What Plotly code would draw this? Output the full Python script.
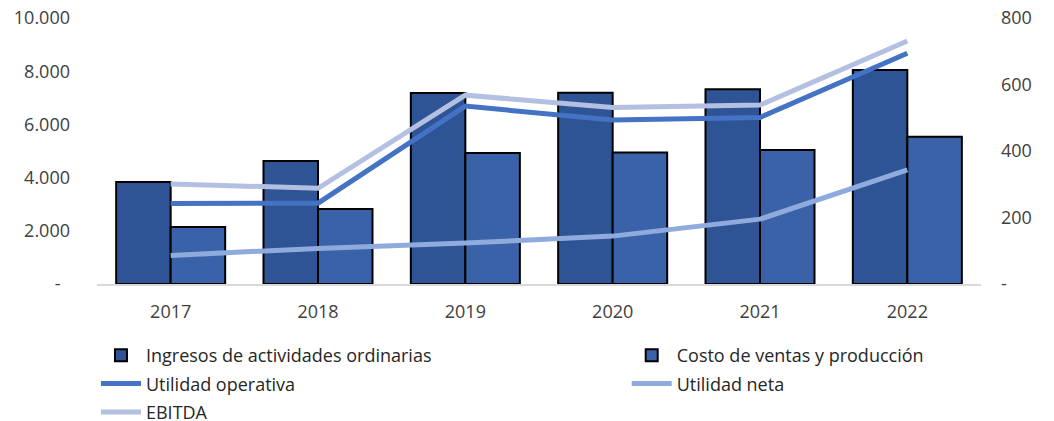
import plotly.graph_objects as go

years = ["2017", "2018", "2019", "2020", "2021", "2022"]
ingresos = [3830, 4620, 7180, 7190, 7320, 8045]
costo = [2140, 2820, 4925, 4940, 5040, 5540]
util_operativa = [242, 243, 535, 493, 501, 694]
util_neta = [86, 107, 123, 144, 195, 343]
ebitda = [301, 288, 568, 531, 538, 731]

left_ticks = [0, 2000, 4000, 6000, 8000, 10000]
left_labels = ["-\u00a0\u00a0", "2.000", "4.000", "6.000", "8.000", "10.000"]
right_ticks = [0, 200, 400, 600, 800]
right_labels = ["-", "200", "400", "600", "800"]

FONT = "Open Sans"
TICKCOL = "#404040"

fig = go.Figure()
fig.add_trace(go.Bar(x=years, y=ingresos, name="Ingresos de actividades ordinarias",
                     legend="legend", legendgroup="a",
                     marker=dict(color="#2F5495", line=dict(color="black", width=2))))
fig.add_trace(go.Bar(x=years, y=costo, name="Costo de ventas y producción",
                     legend="legend2", legendgroup="b",
                     marker=dict(color="#3A62A8", line=dict(color="black", width=2))))
fig.add_trace(go.Scatter(x=years, y=util_operativa, name="Utilidad operativa", yaxis="y2",
                         legend="legend", legendgroup="c",
                         mode="lines", line=dict(color="#4472C4", width=5)))
fig.add_trace(go.Scatter(x=years, y=util_neta, name="Utilidad neta", yaxis="y2",
                         legend="legend2", legendgroup="d",
                         mode="lines", line=dict(color="#8FAADC", width=5)))
fig.add_trace(go.Scatter(x=years, y=ebitda, name="EBITDA", yaxis="y2",
                         legend="legend", legendgroup="e",
                         mode="lines", line=dict(color="#B4C0E2", width=5)))

legend_common = dict(orientation="v", xref="container", yref="container",
                     xanchor="left", yanchor="top", traceorder="grouped",
                     font=dict(size=18, color="#262626", family=FONT),
                     itemwidth=40, tracegroupgap=2, bgcolor="rgba(0,0,0,0)")

fig.update_layout(
    width=1046, height=413,
    margin=dict(l=89, r=73, t=10, b=137, autoexpand=False),
    paper_bgcolor="white", plot_bgcolor="white",
    font=dict(family=FONT, size=18, color=TICKCOL),
    barmode="group", bargap=0.26, bargroupgap=0,
    xaxis=dict(showline=True, linecolor="#D9D9D9", linewidth=2, ticks="",
               ticklabelstandoff=10,
               tickfont=dict(size=18, color=TICKCOL), showgrid=False),
    yaxis=dict(range=[0, 10000], tickvals=left_ticks, ticktext=left_labels,
               showgrid=False, zeroline=False, ticks="", ticklabelstandoff=26,
               ticklabeloverflow="allow",
               tickfont=dict(size=18, color=TICKCOL)),
    yaxis2=dict(range=[0, 800], tickvals=right_ticks, ticktext=right_labels,
                overlaying="y", side="right", showgrid=False, zeroline=False,
                ticks="", ticklabelstandoff=19, ticklabeloverflow="allow",
                tickfont=dict(size=18, color=TICKCOL)),
    legend=dict(x=0.0841, y=0.2034, **legend_common),
    legend2=dict(x=0.5915, y=0.2034, **legend_common),
)

fig.write_html("out.html")
